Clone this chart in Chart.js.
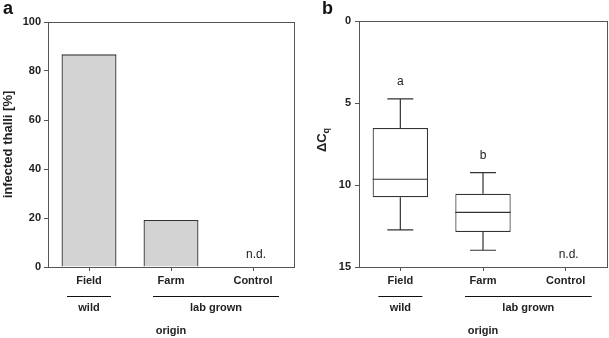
<!DOCTYPE html>
<html><head><meta charset="utf-8">
<script src="https://cdn.jsdelivr.net/npm/chart.js@4/dist/chart.umd.min.js"></script>
<style>
html,body{margin:0;padding:0;background:#fff;}
#wrap{position:relative;width:609px;height:338px;}
#ca{position:absolute;left:0;top:0;}
#cb{position:absolute;left:300px;top:0;}
</style></head><body>
<div id="wrap"><canvas id="ca" width="300" height="338"></canvas><canvas id="cb" width="309" height="338"></canvas></div>
<script>
const categories = ['Field', 'Farm', 'Control'];
const infected = [86.8, 19.2, null];
const notDetected = [false, false, true];
const yTicksA = [0, 20, 40, 60, 80, 100];
const yTicksB = [0, 5, 10, 15];
const whiskerLow = [4.75, 9.25, null];
const q1 = [6.52, 10.53, null];
const median = [9.65, 11.67, null];
const q3 = [10.75, 12.87, null];
const whiskerHigh = [12.74, 13.98, null];
const sigLetters = ['a', 'b', ''];
const groupLabels = ['wild', 'lab grown'];
const groupFrom = [0, 1];
const groupTo = [0, 2];

const FONT = "'Liberation Sans', Arial, sans-serif";
const AXC = '#555';
const INK = '#111';

function fixY(w){ return function(s){ s.width = w; }; }
function fixX(h){ return function(s){ s.height = h; }; }

function extras(panelLetter, letterX, opts){
  return {
    id: 'extras'+panelLetter,
    afterDraw(chart){
      const ctx = chart.ctx, ca = chart.chartArea, xs = chart.scales.x, ys = chart.scales.y;
      ctx.save();
      ctx.strokeStyle = AXC; ctx.lineWidth = 1;
      ctx.strokeRect(Math.round(ca.left)+0.5, Math.round(ca.top)+0.5, Math.round(ca.right-ca.left), Math.round(ca.bottom-ca.top));
      ctx.beginPath(); ctx.moveTo(ca.left-3, Math.round(ca.bottom)+0.5); ctx.lineTo(ca.left, Math.round(ca.bottom)+0.5); ctx.stroke();
      ctx.fillStyle = INK; ctx.font = 'bold 18px '+FONT; ctx.textAlign='left'; ctx.textBaseline='top';
      ctx.fillText(panelLetter, letterX, 0);
      ctx.font = '12px '+FONT; ctx.textAlign='center'; ctx.textBaseline='middle'; ctx.fillStyle='#222';
      notDetected.forEach((nd,i)=>{ if(nd) ctx.fillText('n.d.', xs.getPixelForValue(i)+3, ca.bottom-12); });
      ctx.strokeStyle = INK; ctx.lineWidth = 1.2;
      groupLabels.forEach((g,k)=>{
        let x0 = xs.getPixelForValue(groupFrom[k]), x1 = xs.getPixelForValue(groupTo[k]);
        if(groupFrom[k]===groupTo[k]){ x0 -= 22; x1 += 22; } else { x0 -= 18; x1 += 26; }
        ctx.beginPath(); ctx.moveTo(x0, 296.5); ctx.lineTo(x1, 296.5); ctx.stroke();
        ctx.font = 'bold 11px '+FONT; ctx.fillStyle = '#222';
        ctx.fillText(g, (x0+x1)/2, 308);
      });
      if(opts && opts.box){
        ctx.strokeStyle = '#333'; ctx.lineWidth = 1.2;
        const meta = chart.getDatasetMeta(0);
        categories.forEach((c,i)=>{
          if(median[i]==null) return;
          const el = meta.data[i];
          const x = el.x, hw = el.width/2;
          const ym = ys.getPixelForValue(median[i]);
          ctx.beginPath(); ctx.moveTo(x-hw, ym); ctx.lineTo(x+hw, ym); ctx.stroke();
          const yq1 = ys.getPixelForValue(q1[i]), yq3 = ys.getPixelForValue(q3[i]);
          const yl = ys.getPixelForValue(whiskerLow[i]), yh = ys.getPixelForValue(whiskerHigh[i]);
          ctx.beginPath();
          ctx.moveTo(x, yq1); ctx.lineTo(x, yl);
          ctx.moveTo(x-13, yl); ctx.lineTo(x+13, yl);
          ctx.moveTo(x, yq3); ctx.lineTo(x, yh);
          ctx.moveTo(x-13, yh); ctx.lineTo(x+13, yh);
          ctx.stroke();
          ctx.font = '12px '+FONT; ctx.fillStyle = '#222'; ctx.textAlign='center'; ctx.textBaseline='middle';
          ctx.fillText(sigLetters[i], x, yl-17);
        });
        ctx.save();
        ctx.translate(22, 140); ctx.rotate(-Math.PI/2);
        ctx.fillStyle='#222'; ctx.textAlign='left'; ctx.textBaseline='middle';
        ctx.font = 'bold 13px '+FONT;
        const w1 = ctx.measureText('\u0394C').width;
        ctx.font = 'bold 9px '+FONT;
        const w2 = ctx.measureText('q').width;
        const start = -(w1+w2)/2;
        ctx.font = 'bold 13px '+FONT; ctx.fillText('\u0394C', start, 0);
        ctx.font = 'bold 9px '+FONT; ctx.fillText('q', start+w1, 5);
        ctx.restore();
      }
      ctx.restore();
    }
  };
}

const xScaleCommon = {
  offset: true,
  grid: { display: true, drawOnChartArea: false, drawTicks: true, tickLength: 4, color: AXC, tickColor: AXC, offset: false },
  border: { display: true, color: AXC, width: 1 },
  ticks: { color: '#222', font: { family: FONT, size: 11, weight: 'bold' }, padding: 3, maxRotation: 0 },
  title: { display: true, text: 'origin', color: '#222', font: { family: FONT, size: 11, weight: 'bold' }, padding: { top: 0, bottom: 0 } },
  afterFit: fixX(71)
};

new Chart(document.getElementById('ca'), {
  type: 'bar',
  data: { labels: categories, datasets: [{ data: infected, backgroundColor: '#d3d3d3', borderColor: '#333', borderWidth: 1.3, barPercentage: 0.67, categoryPercentage: 1 }] },
  options: {
    responsive: false, animation: false,
    layout: { padding: { left: 0, right: 6, top: 22, bottom: 0 } },
    plugins: { legend: { display: false }, tooltip: { enabled: false } },
    scales: {
      x: xScaleCommon,
      y: {
        min: 0, max: 100,
        afterBuildTicks: s => { s.ticks = yTicksA.map(v => ({ value: v })); },
        grid: { drawOnChartArea: false, tickLength: 4, color: AXC, tickColor: AXC },
        border: { color: AXC, width: 1 },
        ticks: { color: '#222', font: { family: FONT, size: 11, weight: 'bold' }, padding: 3 },
        title: { display: true, text: 'infected thalli [%]', color: '#222', font: { family: FONT, size: 13, weight: 'bold' }, padding: { top: 1, bottom: 0 } },
        afterFit: fixY(48)
      }
    }
  },
  plugins: [extras('a', 3)]
});

new Chart(document.getElementById('cb'), {
  type: 'bar',
  data: { labels: categories, datasets: [{ data: categories.map((c,i)=> q1[i]==null ? null : [q1[i], q3[i]]), backgroundColor: '#fff', borderColor: '#333', borderWidth: 1.2, borderSkipped: false, barPercentage: 0.67, categoryPercentage: 1 }] },
  options: {
    responsive: false, animation: false,
    layout: { padding: { left: 0, right: 2, top: 21, bottom: 0 } },
    plugins: { legend: { display: false }, tooltip: { enabled: false } },
    scales: {
      x: xScaleCommon,
      y: {
        min: 0, max: 15, reverse: true,
        afterBuildTicks: s => { s.ticks = yTicksB.map(v => ({ value: v })); },
        grid: { drawOnChartArea: false, tickLength: 4, color: AXC, tickColor: AXC },
        border: { color: AXC, width: 1 },
        ticks: { color: '#222', font: { family: FONT, size: 11, weight: 'bold' }, padding: 4 },
        afterFit: fixY(59)
      }
    }
  },
  plugins: [extras('b', 22, { box: true })]
});
</script>
</body></html>
